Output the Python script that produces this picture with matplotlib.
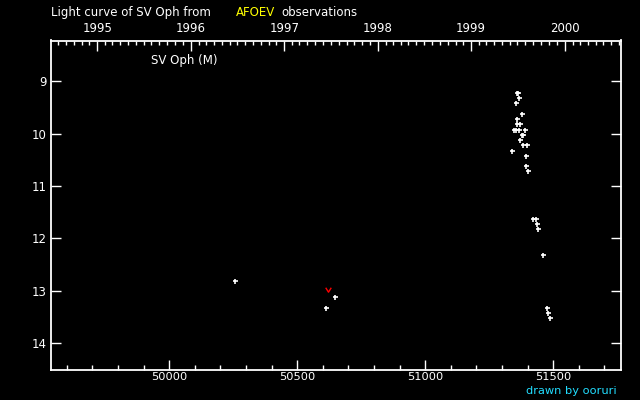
import matplotlib
matplotlib.use("Agg")
import matplotlib.pyplot as plt
from matplotlib.path import Path
from datetime import date

# Observations of SV Oph (JD - 2400000, visual magnitude)
jd_obs = [50255, 50611, 50646,
          51357, 51362, 51366, 51353, 51380, 51357, 51357, 51372,
          51345, 51355, 51366, 51388, 51378, 51384, 51372, 51384, 51397,
          51341, 51393, 51395, 51403,
          51423, 51431, 51435, 51439, 51462, 51474, 51478, 51489]
mag_obs = [12.82, 13.33, 13.12,
           9.22, 9.22, 9.32, 9.42, 9.63, 9.73, 9.82, 9.82,
           9.94, 9.94, 9.94, 9.94, 10.03, 10.03, 10.13, 10.22, 10.22,
           10.33, 10.43, 10.62, 10.72,
           11.63, 11.63, 11.73, 11.82, 12.32, 13.33, 13.43, 13.52]

# fainter-than estimates
jd_faint = [50622]
mag_faint = [12.98]

x_ticks = [50000, 50500, 51000, 51500]
y_ticks = [9, 10, 11, 12, 13, 14]
years = [1995, 1996, 1997, 1998, 1999, 2000]


def to_jd(d):
    # JD - 2400000 at 0h UT
    return 49718.5 + (d - date(1995, 1, 1)).days


fig = plt.figure(figsize=(6.4, 4.0), dpi=100, facecolor='black')
ax = fig.add_axes([50.5 / 640, 30 / 400, 570 / 640, 329.5 / 400], facecolor='black')

ax.plot(jd_obs, mag_obs, linestyle='none', marker='+', color='white',
        markersize=3.6, markeredgewidth=1.2)

v_shape = Path([(-1, 1), (0, -0.6), (1, 1)], [Path.MOVETO, Path.LINETO, Path.LINETO])
ax.plot(jd_faint, mag_faint, linestyle='none', marker=v_shape, color='red',
        markerfacecolor='none', markersize=4, markeredgewidth=1)

ax.set_xlim(49536, 51763)
ax.set_ylim(14.51, 8.225)

for s in ax.spines.values():
    s.set_color('white')
    s.set_linewidth(1.3)

ax.set_xticks(x_ticks)
ax.set_xticks(range(49600, 51800, 100), minor=True)
ax.set_yticks(y_ticks)
ax.tick_params(axis='x', which='major', direction='in', length=7.5, width=1,
               color='white', labelcolor='white', labelsize=8.2, pad=1.5, top=False)
ax.tick_params(axis='x', which='minor', direction='in', length=3.8, width=1,
               color='white', top=False)
ax.tick_params(axis='y', which='major', direction='in', length=7.5, width=1,
               color='white', labelcolor='white', labelsize=8.5, pad=3,
               left=True, right=True)
ax.tick_params(axis='y', which='minor', left=False, right=False)

# top axis in calendar years
top = ax.twiny()
top.set_xlim(ax.get_xlim())
top.set_xticks([to_jd(date(y, 1, 1)) for y in years])
top.set_xticklabels([str(y) for y in years])
months = []
for y in range(1994, 2001):
    for m in range(1, 13):
        j = to_jd(date(y, m, 1))
        if 49536 < j < 51763 and m != 1:
            months.append(j)
top.set_xticks(months, minor=True)
top.tick_params(axis='x', which='major', direction='in', length=7, width=1,
                color='white', labelcolor='white', labelsize=8.5, pad=4)
top.tick_params(axis='x', which='minor', direction='in', length=2.8, width=1,
                color='white')
for s in top.spines.values():
    s.set_visible(False)

fig.text(51 / 640, 1 - 12.5 / 400, 'Light curve of SV Oph from', color='white',
         fontsize=8.5, va='center', ha='left')
fig.text(236 / 640, 1 - 12.5 / 400, 'AFOEV', color='yellow',
         fontsize=8.5, va='center', ha='left')
fig.text(281.5 / 640, 1 - 12.5 / 400, 'observations', color='white',
         fontsize=8.5, va='center', ha='left')
fig.text(151 / 640, 1 - 60.5 / 400, 'SV Oph (M)', color='white',
         fontsize=8.5, va='center', ha='left')
fig.text(617 / 640, 1 - 391.5 / 400, 'drawn by ooruri', color='#22ddff',
         fontsize=8.2, va='center', ha='right')

fig.savefig('out.png', dpi=100, facecolor='black')
